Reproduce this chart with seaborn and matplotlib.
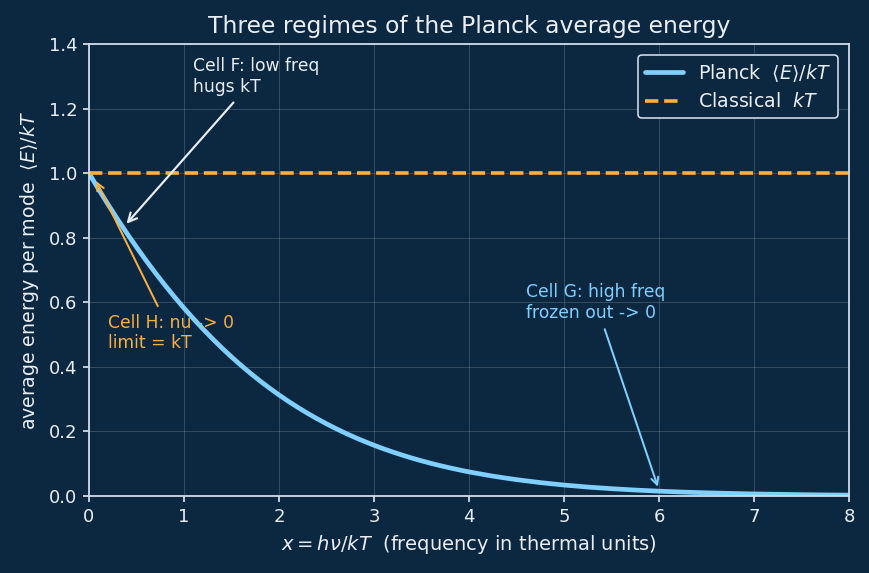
import matplotlib
matplotlib.use("Agg")
import matplotlib.pyplot as plt
import seaborn as sns
import pandas as pd

# values
x_vals = [0.0, 0.1, 0.2, 0.3, 0.4, 0.5, 0.6, 0.7, 0.8, 0.9, 1.0, 1.1, 1.2, 1.3, 1.4,
          1.5, 1.6, 1.7, 1.8, 1.9, 2.0, 2.1, 2.2, 2.3, 2.4, 2.5, 2.6, 2.7, 2.8, 2.9,
          3.0, 3.1, 3.2, 3.3, 3.4, 3.5, 3.6, 3.7, 3.8, 3.9, 4.0, 4.25, 4.5, 4.75,
          5.0, 5.25, 5.5, 5.75, 6.0, 6.25, 6.5, 6.75, 7.0, 7.25, 7.5, 7.75, 8.0]
planck_vals = [1.0, 0.9508, 0.9033, 0.8575, 0.8133, 0.7708, 0.7298, 0.6905, 0.6528,
               0.6166, 0.5820, 0.5489, 0.5172, 0.4870, 0.4582, 0.4308, 0.4048, 0.3800,
               0.3565, 0.3342, 0.3130, 0.2930, 0.2741, 0.2563, 0.2394, 0.2236, 0.2086,
               0.1945, 0.1813, 0.1689, 0.1572, 0.1462, 0.1360, 0.1264, 0.1174, 0.1090,
               0.1011, 0.0938, 0.0870, 0.0806, 0.0746, 0.0615, 0.0506, 0.0415, 0.0339,
               0.0277, 0.0226, 0.0184, 0.0149, 0.0121, 0.0098, 0.0079, 0.0064, 0.0052,
               0.0041, 0.0033, 0.0027]
classical_vals = [1.0] * len(x_vals)
x_ticks = [0, 1, 2, 3, 4, 5, 6, 7, 8]
y_ticks = [0.0, 0.2, 0.4, 0.6, 0.8, 1.0, 1.2, 1.4]

BG = "#0c2740"
FG = "#e8eef5"
SPINE = "#cfdcea"
BLUE = "#7fd0ff"
ORANGE = "#f7b043"

sns.set_theme(style="darkgrid")
plt.rcParams.update({
    "figure.facecolor": BG, "axes.facecolor": BG, "axes.edgecolor": SPINE,
    "text.color": FG, "axes.labelcolor": FG, "xtick.color": FG, "ytick.color": FG,
    "grid.color": "#ffffff", "grid.alpha": 0.18, "grid.linewidth": 0.5,
})
plt.rcParams["font.family"] = ["DejaVu Sans"]

df = pd.DataFrame({"x": x_vals, "planck": planck_vals, "classical": classical_vals})

DPI = 130
fig = plt.figure(figsize=(869 / DPI, 573 / DPI), dpi=DPI)
ax = fig.add_axes([0.1024, 0.1344, 0.8746, 0.7888])
ax.set_facecolor(BG)

sns.lineplot(data=df, x="x", y="planck", ax=ax, color=BLUE, linewidth=2.6,
             label=r"Planck  $\langle E\rangle/kT$")
sns.lineplot(data=df, x="x", y="classical", ax=ax, color=ORANGE, linewidth=2.0,
             linestyle="--", label=r"Classical  $kT$")

ax.set_xlim(0, 8)
ax.set_ylim(0, 1.4)
ax.set_xticks(x_ticks)
ax.set_yticks(y_ticks)
ax.set_yticklabels([f"{v:.1f}" for v in y_ticks])
ax.tick_params(axis="both", labelsize=10, length=3.5, width=0.9, colors=FG, pad=3,
               direction="out")
ax.tick_params(bottom=True, left=True)
for s in ax.spines.values():
    s.set_visible(True)
    s.set_color(SPINE)
    s.set_linewidth(1.0)
ax.grid(True, color="#ffffff", alpha=0.18, linewidth=0.5)

ax.set_title("Three regimes of the Planck average energy", fontsize=13, color=FG, pad=6)
ax.set_xlabel(r"$x = h\nu / kT$  (frequency in thermal units)", fontsize=10.8, color=FG)
ax.set_ylabel(r"average energy per mode  $\langle E\rangle / kT$", fontsize=10.5, color=FG)

ax.annotate("Cell F: low freq\nhugs kT", xy=(0.37, 0.835), xytext=(1.1, 1.24),
            fontsize=9.5, color=FG, ha="left", va="bottom",
            arrowprops=dict(arrowstyle="->", color=FG, lw=1.2, mutation_scale=12))
ax.annotate("Cell H: nu -> 0\nlimit = kT", xy=(0.06, 0.985), xytext=(0.2, 0.445),
            fontsize=9.5, color=ORANGE, ha="left", va="bottom",
            arrowprops=dict(arrowstyle="->", color=ORANGE, lw=1.1, mutation_scale=10))
ax.annotate("Cell G: high freq\nfrozen out -> 0", xy=(6.0, 0.018), xytext=(4.6, 0.54),
            fontsize=9.5, color=BLUE, ha="left", va="bottom",
            arrowprops=dict(arrowstyle="->", color=BLUE, lw=1.1, mutation_scale=10))

leg = ax.legend(loc="upper right", fontsize=10.5, facecolor=BG, edgecolor=SPINE,
                framealpha=1, handlelength=2.0, borderpad=0.35, labelspacing=0.45,
                borderaxespad=0.6)
for t in leg.get_texts():
    t.set_color(FG)
leg.get_frame().set_linewidth(0.9)

fig.savefig("out.png", dpi=DPI, facecolor=BG)
